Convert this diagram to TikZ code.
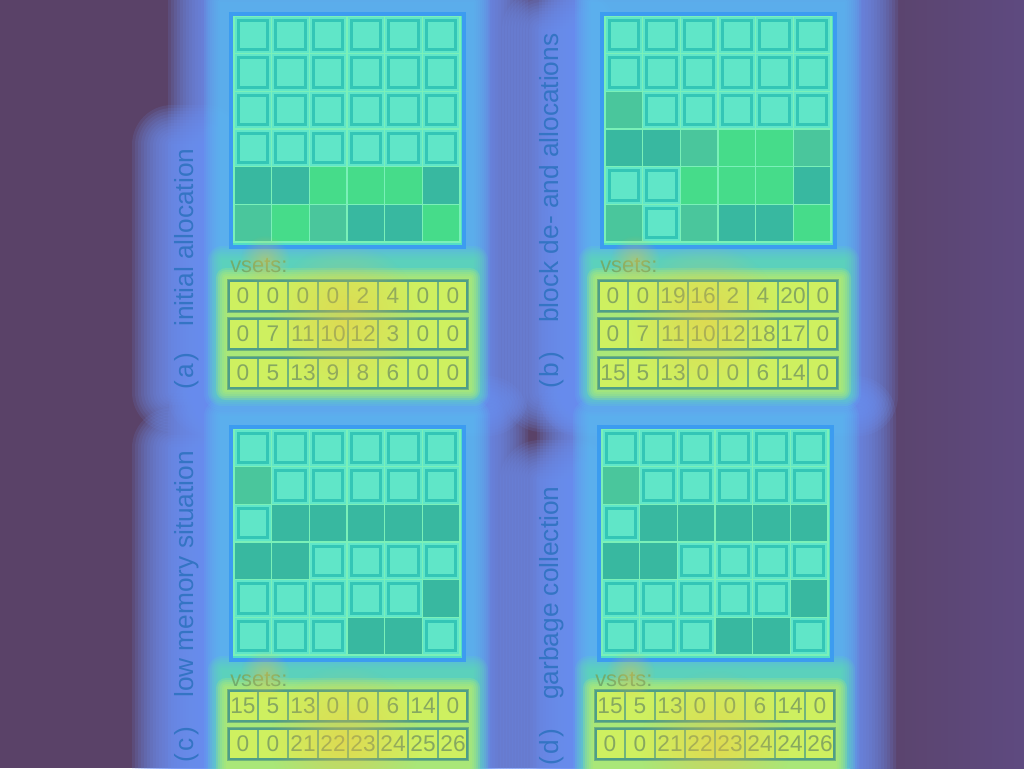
\documentclass[tikz,border=0pt]{standalone}
\usepackage{fontspec}
\setmainfont{Liberation Sans}
\usetikzlibrary{fadings}
\tikzfading[name=hotfade, inner color=transparent!55, outer color=transparent!100]
\definecolor{bgpurple}{HTML}{5A4268}
\definecolor{bgright}{HTML}{5E4A80}
\definecolor{glowblue}{HTML}{6E92F4}
\definecolor{sky}{HTML}{5AC0F4}
\definecolor{aqua}{HTML}{52DEC6}
\definecolor{gridline}{HTML}{7AF0B8}
\definecolor{gridborder}{HTML}{3C9CF0}
\definecolor{emptyfill}{HTML}{60E6C8}
\definecolor{frameteal}{HTML}{34C6B6}
\definecolor{fillD}{HTML}{38B8A0}
\definecolor{fillM}{HTML}{4AC69C}
\definecolor{fillG}{HTML}{46DC8A}
\definecolor{halogreen}{HTML}{62E6A8}
\definecolor{haloyellow}{HTML}{C6F062}
\definecolor{vfill}{HTML}{CEF060}
\definecolor{vline}{HTML}{70B47C}
\definecolor{rowline}{HTML}{4E9E88}
\definecolor{numcol}{HTML}{86A860}
\definecolor{lblcol}{HTML}{3474C4}
\definecolor{vsetcol}{HTML}{72AC6C}
\definecolor{hot}{HTML}{F0C040}
\tikzset{
  cellbase/.style={minimum size=28.25pt,inner sep=0pt,draw=gridline,line width=0.9pt},
  cellE/.style={cellbase,fill=emptyfill,path picture={\draw[frameteal,line width=2.3pt]
     ([shift={(3.1pt,3.1pt)}]path picture bounding box.south west) rectangle
     ([shift={(-3.1pt,-3.1pt)}]path picture bounding box.north east);}},
  cellD/.style={cellbase,fill=fillD},
  cellM/.style={cellbase,fill=fillM},
  cellG/.style={cellbase,fill=fillG},
  gborder/.style={draw=gridborder,line width=3pt},
  vbox/.style={minimum width=22.5pt,minimum height=24pt,inner sep=0pt,draw=vline,line width=1.4pt,
     fill=vfill,text=numcol,font=\fontsize{17}{17}\selectfont},
  rowborder/.style={draw=rowline,line width=2.2pt},
  lbl/.style={text=lblcol,font=\fontsize{19.7}{20}\selectfont,inner sep=0pt,rotate=90,anchor=base west},
  vsetlbl/.style={text=vsetcol,font=\fontsize{16.4}{17}\selectfont,inner sep=0pt,anchor=base west},
}
\newcommand\glowrect[7]{\foreach \r in {#6}{\fill[#5,opacity=#7,rounded corners={0.75*\r pt}] ({#1-\r},{#2-\r}) rectangle ({#3+\r},{#4+\r});}}
\newcommand\blueglow[4]{\glowrect{#1}{#2}{#3}{#4}{glowblue}{40,37,...,1}{0.13}}
\newcommand\skyglow[4]{\glowrect{#1}{#2}{#3}{#4}{sky}{16,14,...,0}{0.14}}
\newcommand\vhalo[4]{%
  \glowrect{#1-4}{#2-18}{#3+4}{#4+2}{halogreen}{14,12,...,0}{0.13}%
  \glowrect{#1}{#2}{#3}{#4}{haloyellow}{10,8,...,0}{0.2}}
\newcommand\hotspot[4]{\fill[#4,path fading=hotfade] (#1,#2) circle (#3);}
\newcommand\memgrid[4]{%
  \fill[aqua] ({#2},{#3}) rectangle ({#2+236},{#3+236});
  \foreach \c [count=\i from 0] in {#4} {
    \pgfmathtruncatemacro\cc{mod(\i,6)}
    \pgfmathtruncatemacro\rr{div(\i,6)}
    \node[cell\c] (#1-\rr-\cc) at ({#2+5+37.67*(\cc+0.5)},{#3+4+37.67*(\rr+0.5)}) {};
  }
  \draw[gborder] ({#2+1.5},{#3+1.5}) rectangle ({#2+234.5},{#3+234.5});
}
\newcommand\vrow[4]{%
  \foreach \n [count=\i from 0] in {#4} {
    \node[vbox] (#1-\i) at ({#2+15+30*\i},{#3+16}) {\n};
  }
  \draw[rowborder] ({#2+1},{#3+1}) rectangle ({#2+239},{#3+31});
}
\begin{document}
\begin{tikzpicture}[x=0.75pt,y=-0.75pt]
\useasboundingbox (0,0) rectangle (1024,768);
\fill[bgpurple] (0,0) rectangle (1024,768);
\shade[left color=bgpurple,right color=bgright] (850,0) rectangle (1024,768);
% ---------- glows ----------
\blueglow{208}{-5}{488}{396}
\blueglow{172}{145}{205}{392}
\blueglow{579}{-5}{858}{396}
\blueglow{542}{30}{576}{392}
\blueglow{208}{416}{488}{780}
\blueglow{172}{448}{205}{780}
\blueglow{577}{416}{856}{780}
\blueglow{540}{480}{574}{780}
\skyglow{220}{2}{474}{394}
\skyglow{591}{2}{845}{394}
\skyglow{220}{416}{474}{780}
\skyglow{589}{416}{843}{780}
\vhalo{226}{278}{470}{390}
\vhalo{597}{278}{841}{390}
\vhalo{226}{688}{470}{775}
\vhalo{593}{688}{837}{775}
% ---------- panel a ----------
\memgrid{ga}{229}{12}{E,E,E,E,E,E, E,E,E,E,E,E, E,E,E,E,E,E, E,E,E,E,E,E, D,D,G,G,G,D, M,G,M,D,D,G}
\node[vsetlbl] (va) at (230,272) {vsets:};
\vrow{a1}{228}{280}{0,0,0,0,2,4,0,0}
\vrow{a2}{228}{318}{0,7,11,10,12,3,0,0}
\vrow{a3}{228}{357}{0,5,13,9,8,6,0,0}
\node[lbl] (la1) at (193,390) {(\kern2pt a\kern2pt)};
\node[lbl] (la2) at (193,327) {initial allocation};
% ---------- panel b ----------
\memgrid{gb}{600}{12}{E,E,E,E,E,E, E,E,E,E,E,E, M,E,E,E,E,E, D,D,M,G,G,M, E,E,G,G,G,D, M,E,M,D,D,G}
\node[vsetlbl] (vb) at (600,272) {vsets:};
\vrow{b1}{598}{280}{0,0,19,16,2,4,20,0}
\vrow{b2}{598}{318}{0,7,11,10,12,18,17,0}
\vrow{b3}{598}{357}{15,5,13,0,0,6,14,0}
\node[lbl] (lb1) at (558,389) {(\kern2pt b\kern2pt)};
\node[lbl] (lb2) at (558,323) {block de- and allocations};
% ---------- panel c ----------
\memgrid{gc}{229}{425}{E,E,E,E,E,E, M,E,E,E,E,E, E,D,D,D,D,D, D,D,E,E,E,E, E,E,E,E,E,D, E,E,E,D,D,E}
\node[vsetlbl] (vc) at (230,686) {vsets:};
\vrow{c1}{228}{690}{15,5,13,0,0,6,14,0}
\vrow{c2}{228}{728}{0,0,21,22,23,24,25,26}
\node[lbl] (lc1) at (193,763) {(\kern2pt c\kern2pt)};
\node[lbl] (lc2) at (193,698) {low memory situation};
% ---------- panel d ----------
\memgrid{gd}{597}{425}{E,E,E,E,E,E, M,E,E,E,E,E, E,D,D,D,D,D, D,D,E,E,E,E, E,E,E,E,E,D, E,E,E,D,D,E}
\node[vsetlbl] (vd) at (595,686) {vsets:};
\vrow{d1}{595}{690}{15,5,13,0,0,6,14,0}
\vrow{d2}{595}{728}{0,0,21,22,23,24,24,26}
\node[lbl] (ld1) at (558,766) {(\kern2pt d\kern2pt)};
\node[lbl] (ld2) at (558,700) {garbage collection};
% ---------- hot spots ----------
\hotspot{345}{318}{75}{hot}
\hotspot{265}{260}{25}{hot}
\hotspot{705}{318}{75}{hot}
\hotspot{635}{260}{25}{hot}
\hotspot{345}{740}{75}{hot}
\hotspot{265}{674}{25}{hot}
\hotspot{715}{745}{75}{hot}
\hotspot{630}{674}{25}{hot}
\end{tikzpicture}
\end{document}
